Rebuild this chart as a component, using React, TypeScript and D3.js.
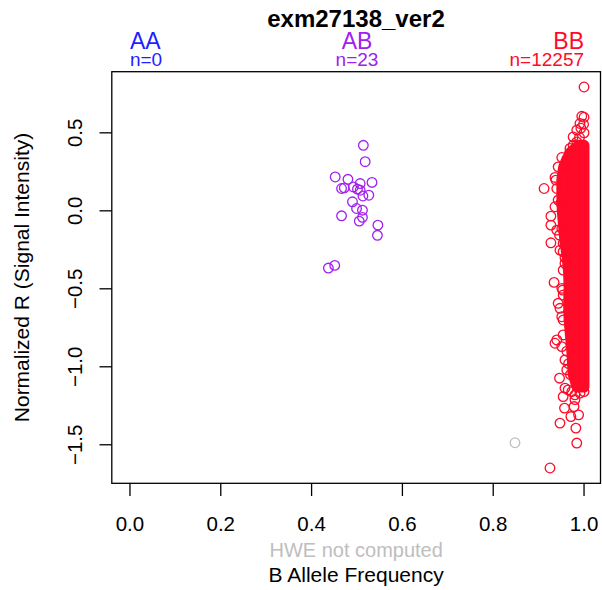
import React from 'react';
import * as d3 from 'd3';

// genotype header
const genotypes = ['AA', 'AB', 'BB'];
const genotypeCounts = [0, 23, 12257];
const genotypeColors = ['#1e1eff', '#a020f0', '#ff0a28'];
const genotypeBaf = [0, 0.5, 1];

const xTicks = [0, 0.2, 0.4, 0.6, 0.8, 1.0];
const yTicks = [-1.5, -1.0, -0.5, 0.0, 0.5];

// AB cluster (23 points)
const abBaf = [0.514, 0.518, 0.452, 0.48, 0.507, 0.533, 0.466, 0.472, 0.492, 0.501, 0.507, 0.513,
  0.526, 0.49, 0.499, 0.512, 0.512, 0.505, 0.466, 0.546, 0.545, 0.437, 0.451];
const abR = [0.42, 0.315, 0.217, 0.202, 0.175, 0.182, 0.143, 0.147, 0.153, 0.139, 0.132, 0.095,
  0.1, 0.058, 0.015, 0.004, -0.042, -0.066, -0.032, -0.092, -0.157, -0.367, -0.35];

// BB sparse points around the dense cluster
const bbBaf = [1.0, 0.995, 1.0, 0.991, 0.999, 0.984, 1.0, 0.976, 0.984, 0.951, 0.936, 0.912, 0.94,
  0.927, 0.927, 0.927, 0.947, 0.954, 0.934, 0.953, 0.947, 0.951, 0.954, 0.936, 0.946, 0.965, 0.973,
  0.954, 0.98, 0.991, 1.0, 0.957, 0.978, 0.988, 0.971, 0.947, 0.982, 0.984, 0.925, 0.94, 0.949,
  0.958, 0.962, 0.966, 0.97, 0.968,
  0.951, 0.946, 0.954, 0.954, 0.958, 0.951, 0.954, 0.943, 0.954, 0.94, 0.951,
  0.943, 0.938, 0.943, 0.936, 0.976, 0.969, 0.958, 0.962, 0.958, 0.99, 0.993, 0.98];
const bbR = [0.794, 0.606, 0.6, 0.56, 0.555, 0.517, 0.5, 0.42, 0.442, 0.342, 0.214, 0.143, 0.143,
  -0.034, -0.092, -0.205, -0.252, -0.38, -0.459, -0.508, -0.625, -0.679, -0.796, -0.849, -1.073,
  -1.148, -1.159, -1.191, -1.18, -1.169, -1.159, -1.265, -1.255, -1.308, -1.319, -1.361, -1.393,
  -1.489, -1.649, -0.124, 0.05, -0.3, -0.9, -0.98, -1.05, 0.37,
  -0.113, -0.156, -0.209, -0.262, -0.337, -0.497, -0.54, -0.593, -0.7, -0.828, -0.871,
  0.282, 0.197, 0.069, 0.026, 0.474, 0.4, -0.956, -1.02, -1.137, 0.47, 0.53, -1.21];

// BB dense core: leftmost BAF of overlapping circles at each R level (right edge at BAF 1)
const bbCoreR = [0.42, 0.38, 0.33, 0.28, 0.2, 0.1, 0.0, -0.1, -0.2, -0.3, -0.4, -0.5, -0.6, -0.7,
  -0.8, -0.9, -1.0, -1.05, -1.13];
const bbCoreBafMin = [0.988, 0.972, 0.962, 0.955, 0.951, 0.951, 0.952, 0.955, 0.958, 0.963, 0.966,
  0.967, 0.966, 0.967, 0.97, 0.973, 0.975, 0.976, 0.985];
const bbCoreBafMax = 1.0;

// no-call point
const ncBaf = [0.848];
const ncR = [-1.487];

const W = 602;
const H = 590;
const font = '"Liberation Sans", Arial, Helvetica, sans-serif';
const R = 4.8;
const SW = 1.3;

const App = () => {
  const x = d3.scaleLinear().domain([-0.04, 1.04]).range([111.8, 602.2]);
  const y = d3.scaleLinear().domain([-1.747, 0.892]).range([483.3, 71.7]);
  const box = { left: 111.8, right: 600.5, top: 71.7, bottom: 483.3 };
  const midX = (box.left + box.right) / 2;
  const midY = (box.top + box.bottom) / 2;

  const corePts: [number, number][] = bbCoreR.map((r, i) => [x(bbCoreBafMin[i]), y(r)]);
  const coreOutline = corePts.concat([
    [x(bbCoreBafMax), y(bbCoreR[bbCoreR.length - 1])],
    [x(bbCoreBafMax), y(bbCoreR[0])],
  ]);
  const corePath = d3.line()(coreOutline) + 'Z';

  const circles = (bx: number[], ry: number[], color: string, key: string) =>
    bx.map((b, i) => (
      <circle key={key + i} cx={x(b)} cy={y(ry[i])} r={R} fill="none" stroke={color} strokeWidth={SW} />
    ));

  return (
    <svg width={W} height={H} style={{ position: 'absolute', left: 0, top: 0, background: '#fff' }}
      fontFamily={font}>
      <text x={356} y={27.3} textAnchor="middle" fontSize={24} fontWeight="bold">exm27138_ver2</text>
      {genotypes.map((g, i) => {
        const anchor = i === 0 ? 'start' : i === 1 ? 'middle' : 'end';
        return (
          <g key={g} fill={genotypeColors[i]} textAnchor={anchor}>
            <text x={x(genotypeBaf[i])} y={49.3} fontSize={23}>{g}</text>
            <text x={x(genotypeBaf[i])} y={66} fontSize={19}>{'n=' + genotypeCounts[i]}</text>
          </g>
        );
      })}

      <g>
        <path d={corePath} fill={genotypeColors[2]} stroke={genotypeColors[2]} strokeWidth={2 * R + SW}
          strokeLinejoin="round" />
        {circles(bbBaf, bbR, genotypeColors[2], 'bb')}
        {circles(abBaf, abR, genotypeColors[1], 'ab')}
        {circles(ncBaf, ncR, '#bebebe', 'nc')}
      </g>

      <rect x={box.left} y={box.top} width={box.right - box.left} height={box.bottom - box.top}
        fill="none" stroke="#000" strokeWidth={1.3} />

      {xTicks.map((t) => (
        <g key={'x' + t}>
          <line x1={x(t)} x2={x(t)} y1={box.bottom} y2={box.bottom + 12.7} stroke="#000" strokeWidth={1.3} />
          <text x={x(t)} y={531} textAnchor="middle" fontSize={20.5}>{t.toFixed(1)}</text>
        </g>
      ))}
      {yTicks.map((t) => (
        <g key={'y' + t}>
          <line x1={box.left} x2={box.left - 12.3} y1={y(t)} y2={y(t)} stroke="#000" strokeWidth={1.3} />
          <text transform={`translate(82,${y(t)}) rotate(-90)`} textAnchor="middle" fontSize={20.5}>
            {t.toFixed(1).replace('-', '\u2212')}
          </text>
        </g>
      ))}

      <text x={midX} y={557.3} textAnchor="middle" fontSize={20} fill="#bebebe">HWE not computed</text>
      <text x={midX} y={582.3} textAnchor="middle" fontSize={21}>B Allele Frequency</text>
      <text transform={`translate(28.5,${midY}) rotate(-90)`} textAnchor="middle" fontSize={21}>
        Normalized R (Signal Intensity)
      </text>
    </svg>
  );
};

export default App;
